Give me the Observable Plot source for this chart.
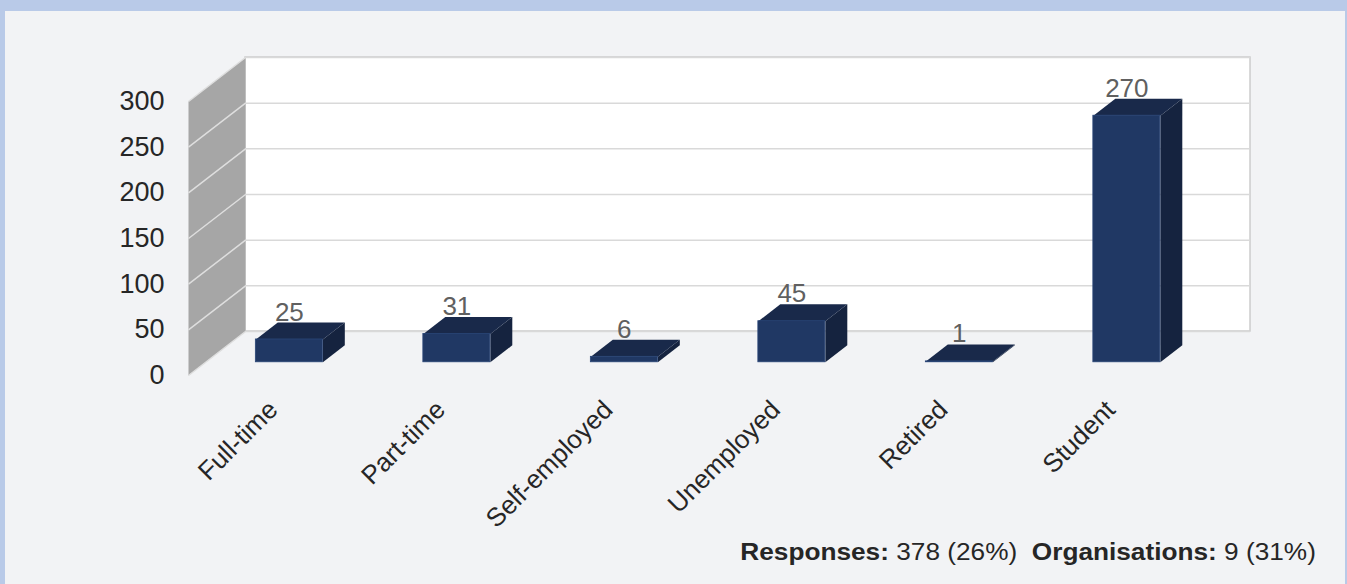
<!DOCTYPE html>
<html><head><meta charset="utf-8">
<script src="https://cdn.jsdelivr.net/npm/d3@7"></script>
<script src="https://cdn.jsdelivr.net/npm/@observablehq/plot@0.6"></script>
<style>
html,body{margin:0;padding:0;}
body{width:1347px;height:584px;overflow:hidden;background:#b9cae8;position:relative;}
#frame{position:absolute;left:5px;top:11px;width:1340px;height:573px;background:#f2f3f5;}
#chart svg{display:block;}
#footer{position:absolute;right:29px;top:528px;text-align:right;font:23px "Liberation Sans",Arial,sans-serif;color:#262626;white-space:pre;transform:scaleX(1.14);transform-origin:right center;}
</style></head><body>
<div id="frame"><div id="chart"></div><div id="footer"></div></div>
<script>
const categories = ["Full-time","Part-time","Self-employed","Unemployed","Retired","Student"];
const counts = [25,31,6,45,1,270];
const yTicks = [0,50,100,150,200,250,300];
const footerLabels = ["Responses:","Organisations:"];
const footerValues = ["378 (26%)","9 (31%)"];

// 3D geometry (style)
const DX = 57/167.5;   // depth in x band units
const DY = 48.2;       // depth in y units
const D0 = 0.30, D1 = 0.685, BW = 0.4;
const n = categories.length;
const yMax = d3.max(yTicks);

const bars = categories.map((c,i)=>({c, i, v: counts[i]}));
const xl = d => d.i + 0.5 - BW/2, xr = d => d.i + 0.5 + BW/2;

const topPts = bars.flatMap(d => [
  {id:d.i, x:xl(d)+D0*DX, y:d.v+D0*DY},
  {id:d.i, x:xr(d)+D0*DX, y:d.v+D0*DY},
  {id:d.i, x:xr(d)+D1*DX, y:d.v+D1*DY},
  {id:d.i, x:xl(d)+D1*DX, y:d.v+D1*DY}
]);
const sidePts = bars.flatMap(d => [
  {id:d.i, x:xr(d)+D0*DX, y:D0*DY},
  {id:d.i, x:xr(d)+D1*DX, y:D1*DY},
  {id:d.i, x:xr(d)+D1*DX, y:d.v+D1*DY},
  {id:d.i, x:xr(d)+D0*DX, y:d.v+D0*DY}
]);
const sideWall = [{x:0,y:0},{x:DX,y:DY},{x:DX,y:yMax+DY},{x:0,y:yMax}];

const chart = Plot.plot({
  width: 1340, height: 510,
  marginLeft: 183, marginRight: 95, marginTop: 46, marginBottom: 146,
  x: {domain: [0, n + DX], axis: null},
  y: {domain: [0, yMax + DY], label: null},
  style: {fontFamily: "'Liberation Sans', Arial, sans-serif", background: "transparent", overflow: "visible"},
  marks: [
    Plot.rect([0], {x1: DX, x2: n + DX, y1: DY, y2: yMax + DY, fill: "white", stroke: "#cccccc", strokeWidth: 1.5}),
    Plot.line(sideWall, {x: "x", y: "y", fill: "#a6a6a6", stroke: "none"}),
    Plot.ruleY(yTicks, {y: t => t + DY, x1: DX, x2: n + DX, stroke: "#d9d9d9", strokeWidth: 1.5}),
    Plot.link(yTicks, {x1: 0, x2: DX, y1: t => t, y2: t => t + DY, stroke: "#dedede", strokeWidth: 1.5}),
    Plot.line(sidePts, {x: "x", y: "y", z: "id", fill: "#15233f", stroke: "none"}),
    Plot.line(topPts, {x: "x", y: "y", z: "id", fill: "#19294a", stroke: "none"}),
    Plot.rect(bars, {x1: d => xl(d) + D0*DX, x2: d => xr(d) + D0*DX, y1: D0*DY, y2: d => d.v + D0*DY, fill: "#203864", stroke: "#2a4677", strokeWidth: 0.8}),
    Plot.text(bars, {x: d => d.i + 0.5 + D0*DX, y: d => d.v + D1*DY, text: d => String(d.v), lineAnchor: "bottom", dy: -2, fontSize: 26, fill: "#606060"}),
    Plot.text(bars, {x: d => d.i + 0.5, y: 0, text: "c", rotate: -45, textAnchor: "end", dx: 1, dy: 30, fontSize: 26, fill: "#262626"}),
    Plot.axisY(yTicks, {tickSize: 0, tickPadding: 24, fontSize: 27, fill: "#262626", label: null})
  ]
});
document.getElementById("chart").appendChild(chart);

const f = document.getElementById("footer");
footerLabels.forEach((l, i) => {
  const b = document.createElement("b"); b.textContent = l; f.appendChild(b);
  f.appendChild(document.createTextNode(" " + footerValues[i] + (i < footerLabels.length - 1 ? "  " : "")));
});
</script>
</body></html>
